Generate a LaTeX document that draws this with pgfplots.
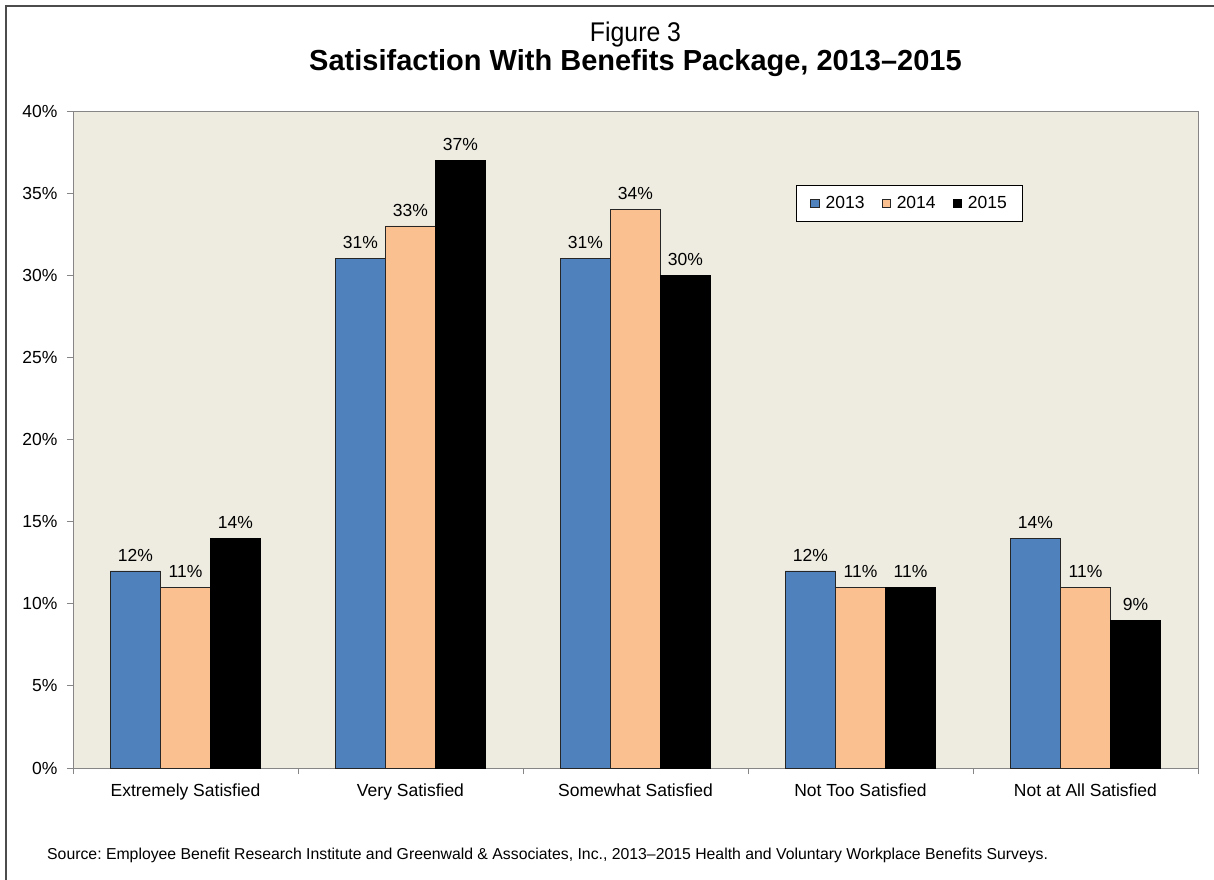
\documentclass[border=0pt]{standalone}
\usepackage{pgfplots}
\pgfplotsset{compat=1.18}
\usepackage{fontspec}
\setmainfont{Liberation Sans}
\frenchspacing
\definecolor{cblue}{HTML}{4F81BD}
\definecolor{cpeach}{HTML}{FAC090}
\definecolor{cbg}{HTML}{EEECE1}
\definecolor{caxis}{HTML}{868686}
\begin{document}
\begin{tikzpicture}[x=1pt,y=1pt]
\useasboundingbox (0,0) rectangle (1214,879);
\draw[line width=2.2pt, black!70] (6,-5) -- (6,873) -- (1220,873);
\node[font=\fontsize{27}{30}\selectfont] at (635.5,844) {\scalebox{0.92}[1]{Figure 3}};
\node[font=\fontsize{29}{32}\selectfont\bfseries] at (635.5,816) {Satisifaction With Benefits Package, 2013--2015};
\node[font=\fontsize{15.8}{18}\selectfont, anchor=west, inner sep=0pt] at (47,24) {Source: Employee Benefit Research Institute and Greenwald \& Associates, Inc., 2013--2015 Health and Voluntary Workplace Benefits Surveys.};
\begin{axis}[
  at={(73pt,111pt)}, anchor=south west,
  scale only axis, width=1125pt, height=657pt,
  axis background/.style={fill=cbg},
  axis line style={caxis, line width=0.8pt},
  ybar=0pt, bar width=50pt,
  xmin=-0.5, xmax=4.5, ymin=0, ymax=40,
  xtick={0,1,2,3,4},
  xticklabels={Extremely Satisfied, Very Satisfied, Somewhat Satisfied, Not Too Satisfied, Not at All Satisfied},
  major x tick style={draw=none},
  minor xtick={-0.5,0.5,1.5,2.5,3.5,4.5},
  minor x tick style={caxis, line width=0.8pt},
  minor tick length=6pt, major tick length=6pt,
  tick align=outside,
  ytick={0,5,...,40},
  yticklabel={\pgfmathprintnumber{\tick}\%},
  y tick style={caxis, line width=0.8pt},
  ytick pos=left, xtick pos=bottom,
  tick label style={font=\fontsize{17.5}{20}\selectfont},
  /pgf/number format/assume math mode=true,
  xticklabel style={yshift=-6pt},
  yticklabel style={xshift=-6pt},
  nodes near coords={\pgfmathprintnumber{\pgfplotspointmeta}\%},
  nodes near coords style={font=\fontsize{17.5}{20}\selectfont, text=black, anchor=south, yshift=6pt},
  legend style={at={(0.6427,0.887)}, anchor=north west, draw=black, line width=0.8pt, fill=white,
    font=\fontsize{17.5}{20}\selectfont, inner xsep=14pt, inner ysep=9pt,
    /tikz/every even column/.append style={column sep=15pt}},
  legend columns=3,
  legend image code/.code={\draw[#1, line width=0.6pt] (0pt,-4.25pt) rectangle (8.5pt,4.25pt); \path (12.5pt,0pt);},
  clip=false,
]
\addplot[fill=cblue, draw=black!85, line width=0.8pt] coordinates {(0,12) (1,31) (2,31) (3,12) (4,14)};
\addplot[fill=cpeach, draw=black!85, line width=0.8pt] coordinates {(0,11) (1,33) (2,34) (3,11) (4,11)};
\addplot[fill=black, draw=black, line width=0.8pt] coordinates {(0,14) (1,37) (2,30) (3,11) (4,9)};
\legend{2013,2014,2015}
\end{axis}
\end{tikzpicture}
\end{document}
